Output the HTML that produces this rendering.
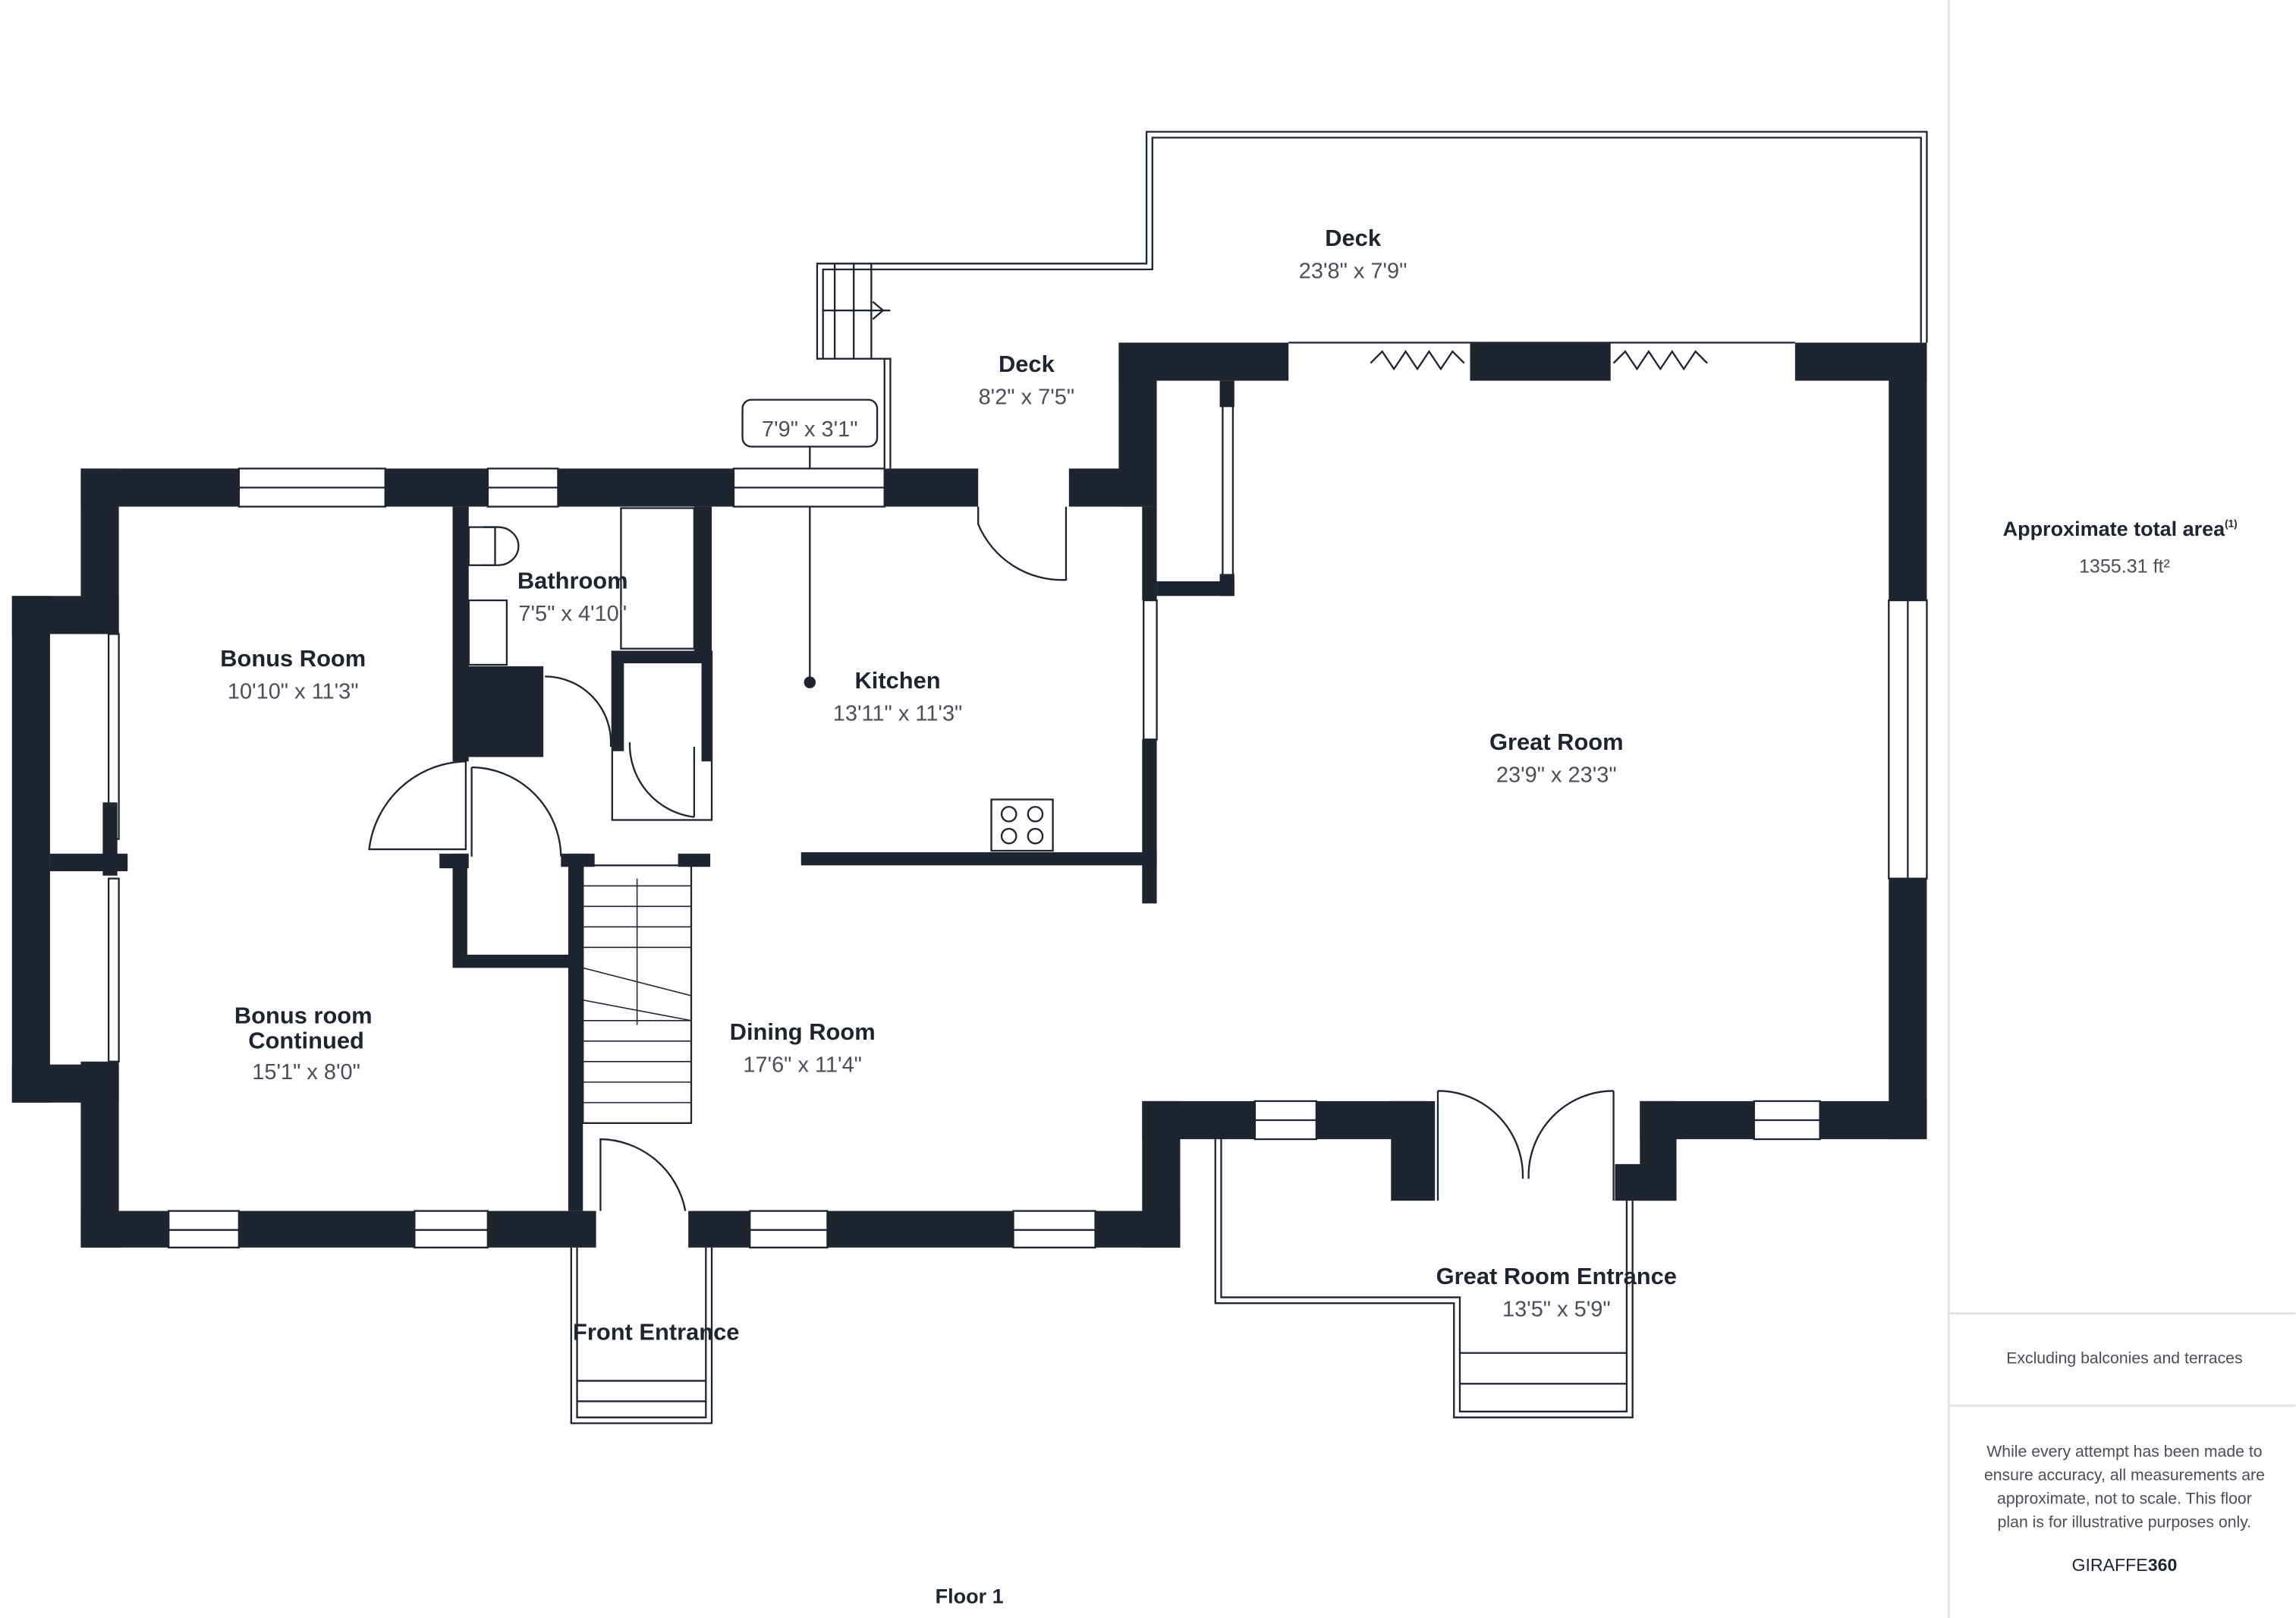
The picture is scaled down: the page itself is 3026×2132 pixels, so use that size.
<!DOCTYPE html>
<html><head><meta charset="utf-8">
<style>
html,body{margin:0;padding:0;background:#fff;}
svg{display:block;}
text{font-family:"Liberation Sans","DejaVu Sans",sans-serif;}
.n{font-weight:bold;font-size:16px;fill:#1e2530;text-anchor:middle;}
.d{font-size:15px;fill:#4a4f57;text-anchor:middle;}
</style></head><body>
<svg width="3026" height="2132" viewBox="0 0 1568 1105" xmlns="http://www.w3.org/2000/svg">
<rect width="1568" height="1105" fill="#fff"/>
<!-- right panel -->
<line x1="1331" y1="0" x2="1331" y2="1105" stroke="#e3e3e3" stroke-width="1.5"/>
<line x1="1331" y1="897" x2="1568" y2="897" stroke="#e3e3e3" stroke-width="1.5"/>
<line x1="1331" y1="960" x2="1568" y2="960" stroke="#e3e3e3" stroke-width="1.5"/>
<text x="1448" y="366" class="n" style="font-size:14px">Approximate total area<tspan dy="-6" style="font-size:7px">(1)</tspan></text>
<text x="1451" y="391" class="d" style="font-size:13px">1355.31 ft²</text>
<text x="1451" y="931" class="d" style="font-size:11px">Excluding balconies and terraces</text>
<text x="1451" y="995" class="d" style="font-size:11px">While every attempt has been made to</text>
<text x="1451" y="1011" class="d" style="font-size:11px">ensure accuracy, all measurements are</text>
<text x="1451" y="1027" class="d" style="font-size:11px">approximate, not to scale. This floor</text>
<text x="1451" y="1043" class="d" style="font-size:11px">plan is for illustrative purposes only.</text>
<text x="1451" y="1073" class="d" style="font-size:12px;fill:#1e2530">GIRAFFE<tspan font-weight="bold">360</tspan></text>
<text x="662" y="1095" class="n" style="font-size:14px">Floor 1</text>

<g fill="none" stroke="#1e2530" stroke-width="1.2">
<!-- upper deck -->
<polyline points="608,320 608,245 558,245 558,180 783,180 783,90 1316,90 1316,234"/>
<polyline points="562,245 562,184 783,184 787,184 787,94 1312,94 1312,234"/>
<line x1="562" y1="212" x2="608" y2="212"/>
<line x1="583" y1="180" x2="583" y2="245"/><line x1="595" y1="180" x2="595" y2="245"/>
<line x1="570" y1="180" x2="570" y2="245"/>
<polyline points="596,206 603,212 596,218"/>
<line x1="604" y1="245" x2="604" y2="320"/>
<!-- great room entrance -->
<polyline points="830,778 830,890 993,890 993,968 1115,968 1115,820"/>
<polyline points="834,778 834,886 997,886 997,964 1111,964 1111,820"/>
<line x1="997" y1="924" x2="1111" y2="924"/><line x1="997" y1="945" x2="1111" y2="945"/>
<!-- front entrance -->
<polyline points="390,852 390,972 486,972 486,852"/>
<polyline points="394,852 394,968 482,968 482,852"/>
<line x1="394" y1="943" x2="482" y2="943"/><line x1="394" y1="957" x2="482" y2="957"/>
<!-- stairs -->
<rect x="398" y="591" width="74" height="176"/>
<g stroke-width="0.8">
<line x1="398" y1="605" x2="472" y2="605"/><line x1="398" y1="619" x2="472" y2="619"/><line x1="398" y1="633" x2="472" y2="633"/><line x1="398" y1="647" x2="472" y2="647"/><line x1="398" y1="661" x2="472" y2="680"/><line x1="398" y1="683" x2="472" y2="697"/><line x1="398" y1="697" x2="472" y2="697"/><line x1="398" y1="711" x2="472" y2="711"/><line x1="398" y1="725" x2="472" y2="725"/><line x1="398" y1="739" x2="472" y2="739"/><line x1="398" y1="753" x2="472" y2="753"/>
<line x1="435" y1="600" x2="435" y2="700"/>
</g>
<!-- doors -->
<path d="M668,346 L668,358 A62,62 0 0 0 728,396 L728,346"/>
<path d="M410,827 L410,778 A60,60 0 0 1 468,827"/>
<path d="M252,580 L252,580 A68,68 0 0 1 318,520 L318,580 Z"/>
<path d="M322,524 A62,62 0 0 1 383,585 M322,524 L322,585"/>
<path d="M372,462 A45,45 0 0 1 417,510"/>
<path d="M430,507 A50,50 0 0 0 474,558 M474,510 L474,558"/>
<path d="M982,745 L982,820 M982,745 A58,58 0 0 1 1040,805 M1102,745 L1102,820 M1102,745 A58,58 0 0 0 1044,805"/>
<!-- stove, toilet, bath -->
<rect x="677" y="546" width="42" height="35"/>
<circle cx="689" cy="556" r="5"/><circle cx="707" cy="556" r="5"/><circle cx="689" cy="571" r="5"/><circle cx="707" cy="571" r="5"/>
<rect x="320" y="360" width="18" height="26"/><path d="M330,360 h10 a14,13 0 0 1 0,26 h-10"/>
<rect x="320" y="410" width="26" height="44"/>
<rect x="424" y="347" width="50" height="96"/>
<rect x="418" y="445" width="68" height="115"/>
<!-- label box -->
<rect x="507" y="273" width="92" height="32" rx="6" fill="#fff"/>
<line x1="553" y1="305" x2="553" y2="466"/>
<!-- windows -->
<g fill="#fff">
<rect x="163" y="320" width="100" height="26"/><rect x="333" y="320" width="48" height="26"/><rect x="501" y="320" width="103" height="26"/>
<rect x="115" y="827" width="48" height="25"/><rect x="283" y="827" width="50" height="25"/><rect x="512" y="827" width="53" height="25"/><rect x="692" y="827" width="56" height="25"/>
<rect x="857" y="752" width="42" height="26"/><rect x="1198" y="752" width="45" height="26"/>
<rect x="1290" y="410" width="26" height="190"/><rect x="781" y="410" width="9" height="95"/>
<rect x="74" y="433" width="7" height="140"/><rect x="74" y="600" width="7" height="125"/>
<rect x="835" y="270" width="7" height="125"/>
</g>
<line x1="163" y1="333" x2="263" y2="333"/><line x1="333" y1="333" x2="381" y2="333"/><line x1="501" y1="333" x2="604" y2="333"/>
<line x1="115" y1="840" x2="163" y2="840"/><line x1="283" y1="840" x2="333" y2="840"/><line x1="512" y1="840" x2="565" y2="840"/><line x1="692" y1="840" x2="748" y2="840"/>
<line x1="857" y1="765" x2="899" y2="765"/><line x1="1198" y1="765" x2="1243" y2="765"/><line x1="1303" y1="410" x2="1303" y2="600"/>
<line x1="880" y1="234" x2="1226" y2="234"/>
<polyline points="936,248 944,240 952,252 960,240 968,252 976,240 984,252 992,240 1000,248"/>
<polyline points="1102,248 1110,240 1118,252 1126,240 1134,252 1142,240 1150,252 1158,240 1166,248"/>
</g>

<g fill="#1e2530">
<!-- left block -->
<rect x="55" y="320" width="108" height="26"/><rect x="263" y="320" width="70" height="26"/><rect x="381" y="320" width="120" height="26"/><rect x="604" y="320" width="64" height="26"/><rect x="730" y="320" width="50" height="26"/>
<rect x="55" y="320" width="26" height="113"/><rect x="55" y="725" width="26" height="127"/>
<rect x="8" y="407" width="73" height="26"/><rect x="8" y="727" width="73" height="26"/><rect x="8" y="407" width="26" height="346"/>
<rect x="34" y="583" width="53" height="12"/><rect x="70" y="548" width="10" height="50"/>
<rect x="55" y="827" width="60" height="25"/><rect x="163" y="827" width="120" height="25"/><rect x="333" y="827" width="74" height="25"/>
<rect x="470" y="827" width="42" height="25"/><rect x="565" y="827" width="127" height="25"/><rect x="748" y="827" width="58" height="25"/>
<rect x="780" y="752" width="26" height="100"/><rect x="780" y="752" width="77" height="26"/>
<rect x="899" y="752" width="76" height="26"/><rect x="950" y="752" width="30" height="68"/><rect x="1103" y="795" width="42" height="25"/><rect x="1120" y="752" width="25" height="68"/><rect x="1120" y="752" width="78" height="26"/><rect x="1243" y="752" width="73" height="26"/>
<rect x="1290" y="234" width="26" height="176"/><rect x="1290" y="600" width="26" height="178"/>
<rect x="764" y="234" width="116" height="26"/><rect x="1004" y="234" width="96" height="26"/><rect x="1226" y="234" width="90" height="26"/>
<rect x="764" y="234" width="26" height="112"/><rect x="780" y="346" width="10" height="64"/><rect x="780" y="505" width="10" height="112"/>
<rect x="790" y="397" width="53" height="10"/><rect x="833" y="260" width="10" height="18"/><rect x="833" y="392" width="10" height="15"/>
<rect x="547" y="582" width="243" height="9"/>
<rect x="309" y="346" width="11" height="174"/><rect x="309" y="455" width="62" height="62"/><rect x="474" y="346" width="12" height="100"/>
<rect x="418" y="445" width="68" height="8"/><rect x="418" y="445" width="8" height="68"/><rect x="479" y="445" width="7" height="75"/>
<rect x="300" y="583" width="20" height="10"/><rect x="309" y="583" width="10" height="77"/><rect x="309" y="652" width="80" height="9"/>
<rect x="383" y="583" width="23" height="9"/><rect x="463" y="583" width="22" height="9"/><rect x="388" y="583" width="10" height="244"/>
<circle cx="553" cy="466" r="4"/>
</g>

<text x="200" y="455" class="n">Bonus Room</text><text x="200" y="477" class="d">10'10" x 11'3"</text>
<text x="391" y="402" class="n">Bathroom</text><text x="391" y="424" class="d">7'5" x 4'10"</text>
<text x="613" y="470" class="n">Kitchen</text><text x="613" y="492" class="d">13'11" x 11'3"</text>
<text x="1063" y="512" class="n">Great Room</text><text x="1063" y="534" class="d">23'9" x 23'3"</text>
<text x="924" y="168" class="n">Deck</text><text x="924" y="190" class="d">23'8" x 7'9"</text>
<text x="701" y="254" class="n">Deck</text><text x="701" y="276" class="d">8'2" x 7'5"</text>
<text x="553" y="298" class="d">7'9" x 3'1"</text>
<text x="207" y="699" class="n">Bonus room</text><text x="209" y="716" class="n">Continued</text><text x="209" y="737" class="d">15'1" x 8'0"</text>
<text x="548" y="710" class="n">Dining Room</text><text x="548" y="732" class="d">17'6" x 11'4"</text>
<text x="448" y="915" class="n">Front Entrance</text>
<text x="1063" y="877" class="n">Great Room Entrance</text><text x="1063" y="899" class="d">13'5" x 5'9"</text>
</svg>
</body></html>
